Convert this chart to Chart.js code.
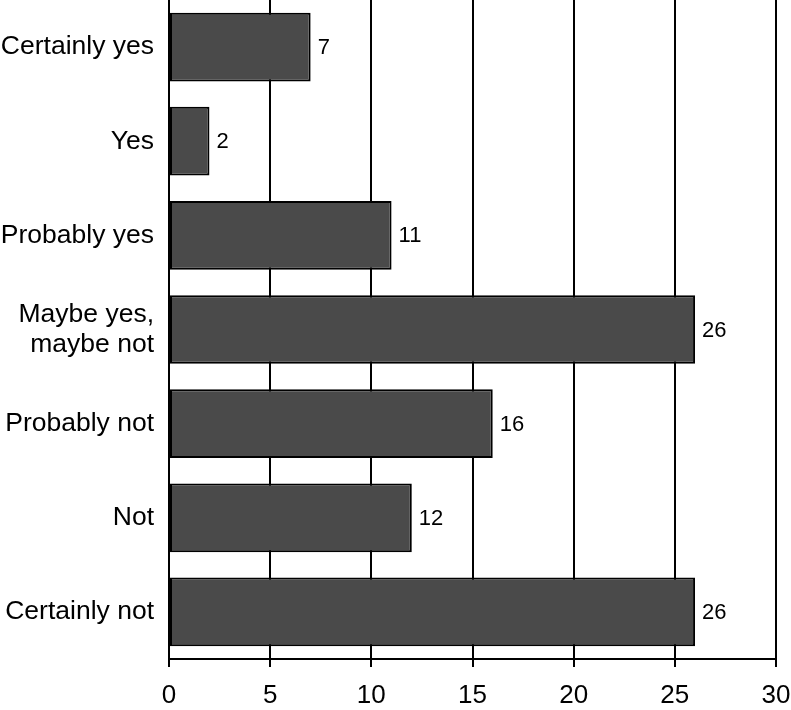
<!DOCTYPE html>
<html>
<head>
<meta charset="utf-8">
<script src="https://cdn.jsdelivr.net/npm/chart.js@4"></script>
<style>
  html, body { margin: 0; padding: 0; background: #fff; }
  #wrap { width: 791px; height: 710px; }
</style>
</head>
<body>
<div id="wrap"><canvas id="answersChart"></canvas></div>
<script>
// data
const categories = [
  "Certainly yes",
  "Yes",
  "Probably yes",
  ["Maybe yes,", "maybe not"],
  "Probably not",
  "Not",
  "Certainly not",
];
const counts = [7, 2, 11, 26, 16, 12, 26];
const xTicks = [0, 5, 10, 15, 20, 25, 30];

const FONT = "'Liberation Sans', Arial, Helvetica, sans-serif";

// draws the number right of each bar
const valueLabels = {
  id: "valueLabels",
  afterDatasetsDraw(chart) {
    const ctx = chart.ctx;
    const meta = chart.getDatasetMeta(0);
    ctx.save();
    ctx.font = "22px " + FONT;
    ctx.fillStyle = "#000";
    ctx.textAlign = "left";
    ctx.textBaseline = "middle";
    meta.data.forEach((bar, i) => {
      ctx.fillText(String(counts[i]), bar.x + 7, bar.y + 1);
    });
    ctx.restore();
  },
};

const ctx = document.getElementById("answersChart").getContext("2d");
new Chart(ctx, {
  type: "bar",
  data: {
    labels: categories,
    datasets: [
      {
        data: counts,
        backgroundColor: "#4a4a4a",
        borderColor: "#000",
        borderWidth: 2,
        borderSkipped: false,
        categoryPercentage: 1,
        barPercentage: 0.73,
      },
    ],
  },
  options: {
    indexAxis: "y",
    responsive: true,
    maintainAspectRatio: false,
    animation: false,
    layout: { padding: { left: 0, right: 15, top: 0, bottom: 0 } },
    plugins: {
      legend: { display: false },
      tooltip: { enabled: false },
    },
    scales: {
      x: {
        min: 0,
        max: 30,
        afterBuildTicks: (axis) => {
          axis.ticks = xTicks.map((v) => ({ value: v }));
        },
        afterFit: (axis) => {
          axis.height = 51;
          axis.paddingLeft = 0;
          axis.paddingRight = 0;
        },
        grid: {
          color: "#000",
          lineWidth: 2,
          tickLength: 8,
          drawTicks: true,
        },
        border: { display: true, color: "#000", width: 2 },
        ticks: {
          color: "#000",
          font: { family: FONT, size: 26 },
          padding: 13,
          maxRotation: 0,
        },
      },
      y: {
        afterFit: (axis) => {
          axis.width = 169;
          axis.paddingTop = 0;
          axis.paddingBottom = 0;
        },
        grid: { display: false, drawTicks: false, tickLength: 0 },
        border: { display: false },
        ticks: {
          color: "#000",
          font: { family: FONT, size: 26.5, lineHeight: 1.12 },
          padding: 15,
        },
      },
    },
  },
  plugins: [valueLabels],
});
</script>
</body>
</html>
